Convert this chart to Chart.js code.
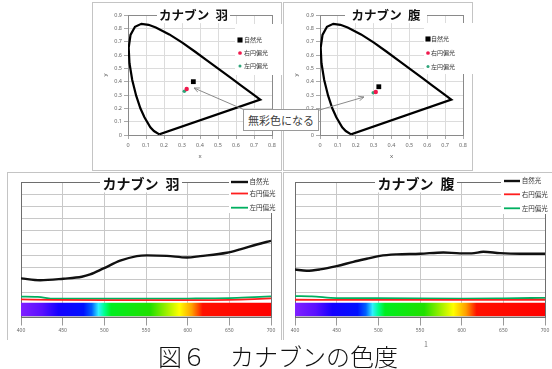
<!DOCTYPE html>
<html lang="ja">
<head>
<meta charset="utf-8">
<title>カナブンの色度</title>
<script src="https://cdn.jsdelivr.net/npm/chart.js@4.4.1/dist/chart.umd.min.js"></script>
<style>
  html, body { margin: 0; padding: 0; background: #fff; }
  body { position: relative; width: 552px; height: 369px; overflow: hidden;
         font-family: "Noto Sans CJK JP", "Noto Sans", sans-serif; }
  .box { position: absolute; border: 1px solid #c4c4c4; box-sizing: border-box; }
  .box.open { border-bottom: none; }
  canvas { position: absolute; }
  #arrows { position: absolute; left: 0; top: 0; }
  #note { position: absolute; left: 243px; top: 109px; width: 76px; height: 22px;
          box-sizing: border-box; border: 1px solid #9a9a9a; background: #fff;
          font-size: 11px; line-height: 20px; color: #404040; text-align: center; white-space: nowrap; }
  #caption { position: absolute; left: 158px; top: 344px; font-size: 24px; line-height: 24px;
             font-weight: 300; color: #111; white-space: nowrap; }
  #pageNo { position: absolute; left: 424px; top: 339px; font-size: 7px; color: #777; }
</style>
</head>
<body>
<div class="box" style="left:92px;top:2px;width:190px;height:169px"></div>
<div class="box" style="left:283px;top:2px;width:190px;height:169px"></div>
<div class="box open" style="left:7px;top:172px;width:275px;height:168px"></div>
<div class="box open" style="left:283px;top:172px;width:272px;height:168px"></div>

<canvas id="chromaHane" width="190" height="172" style="left:92px;top:0"></canvas>
<canvas id="chromaHara" width="190" height="172" style="left:283px;top:0"></canvas>
<canvas id="specHane" width="274" height="168" style="left:7px;top:172px"></canvas>
<canvas id="specHara" width="270" height="168" style="left:282px;top:172px"></canvas>

<svg id="arrows" width="552" height="369">
  <defs>
    <marker id="ah" viewBox="0 0 10 10" refX="9" refY="5" markerWidth="6" markerHeight="6" orient="auto">
      <path d="M0,1 L9,5 L0,9" fill="none" stroke="#8a8a8a" stroke-width="1.4"/>
    </marker>
  </defs>
  <line x1="247" y1="111" x2="194" y2="88" stroke="#8a8a8a" stroke-width="1" marker-end="url(#ah)"/>
  <line x1="316" y1="111" x2="364" y2="97" stroke="#8a8a8a" stroke-width="1" marker-end="url(#ah)"/>
</svg>
<div id="note">無彩色になる</div>
<div id="caption">図６　カナブンの色度</div>
<div id="pageNo">1</div>

<script>
// スペクトル軌跡 (CIE 1931 xy)
const locusX = [0.1741, 0.1440, 0.1241, 0.0913, 0.0687, 0.0454, 0.0235, 0.0082, 0.0039, 0.0139, 0.0389,
                0.0743, 0.1142, 0.1547, 0.2296, 0.3016, 0.3731, 0.4441, 0.5125, 0.5752, 0.6270, 0.6915,
                0.7347, 0.1741];
const locusY = [0.0050, 0.0297, 0.0578, 0.1327, 0.2007, 0.2950, 0.4127, 0.5384, 0.6548, 0.7502, 0.8120,
                0.8338, 0.8262, 0.8059, 0.7543, 0.6923, 0.6245, 0.5547, 0.4866, 0.4242, 0.3725, 0.3083,
                0.2653, 0.0050];

// 系列名
const lightLabels = ['自然光', '右円偏光', '左円偏光'];

// 色度座標 (x, y)
const haneChromaX = [0.363, 0.326, 0.313];
const haneChromaY = [0.400, 0.345, 0.328];
const haraChromaX = [0.329, 0.312, 0.298];
const haraChromaY = [0.362, 0.323, 0.317];

// 色度図の目盛
const chromaXMax = 0.8;
const chromaYMax = 0.9;
const chromaStep = 0.1;

// 分光曲線の目盛
const wlMin = 400;
const wlMax = 700;
const wlStep = 50;
const specYMax = 110;
const specYStep = 10;

// 分光曲線 — 羽
const haneNaturalWl = [400, 423, 451, 473, 483, 499, 519, 539, 551, 575, 599, 615, 647, 663, 683, 700];
const haneNatural   = [31.2, 29.6, 30.9, 32.5, 34.4, 39.3, 45.6, 49.4, 50.0, 49.6, 48.3, 49.4, 52.1, 54.9, 58.9, 61.9];
const haneRightWl   = [400, 440, 500, 600, 650, 680, 700];
const haneRight     = [14.0, 13.6, 13.4, 13.4, 13.6, 14.2, 14.8];
const haneLeftWl    = [400, 420, 440, 500, 600, 650, 680, 700];
const haneLeft      = [16.2, 16.0, 14.6, 14.6, 14.7, 15.0, 15.8, 16.4];

// 分光曲線 — 腹
const haraNaturalWl = [400, 414, 430, 450, 470, 486, 502, 522, 550, 578, 598, 612, 626, 646, 670, 700];
const haraNatural   = [38.5, 37.4, 38.5, 41.2, 44.7, 47.2, 49.6, 50.8, 51.3, 52.4, 51.6, 51.6, 52.9, 51.8, 51.3, 51.3];
const haraRightWl   = [400, 500, 600, 700];
const haraRight     = [13.7, 13.6, 13.6, 13.7];
const haraLeftWl    = [400, 420, 450, 500, 600, 650, 700];
const haraLeft      = [16.7, 16.5, 15.1, 15.0, 14.5, 14.8, 15.3];

// 可視光の帯
const bandTop = 11.2;
const spectrumStops = [
  [400, '#8020ff'], [425, '#5a10ff'], [445, '#1400ff'], [475, '#0010ff'], [485, '#0060ff'],
  [493, '#30f0ff'], [500, '#00ff90'], [508, '#00ee20'], [555, '#20e000'], [575, '#a0f000'],
  [590, '#ffff00'], [605, '#ffa000'], [618, '#ff1000'], [700, '#ff0000']
];

const pointColors = ['#000000', '#f0184c', '#2fa57a'];
const pointStyles = ['rect', 'circle', 'circle'];
const pointSizes  = [3.4, 2.2, 1.8];
const lineColors  = ['#111111', '#ff1e1e', '#00b060'];
const lineWidths  = [2.4, 1.8, 1.8];

const JP = '"Noto Sans CJK JP", "Noto Sans", sans-serif';

// プロット枠
const frame = {
  id: 'frame',
  beforeDatasetsDraw(chart, args, o) {
    const { ctx, chartArea: a } = chart;
    ctx.save();
    ctx.strokeStyle = o.color;
    ctx.lineWidth = 1;
    ctx.strokeRect(Math.round(a.left) + 0.5, Math.round(a.top) + 0.5,
                   Math.round(a.right - a.left), Math.round(a.bottom - a.top));
    ctx.restore();
  }
};

// 枠線に重なるタイトル
const boxTitle = {
  id: 'boxTitle',
  afterDraw(chart, args, o) {
    const ctx = chart.ctx;
    ctx.save();
    ctx.fillStyle = '#fff';
    ctx.fillRect(o.x0, o.y - o.size * 0.65, o.x1 - o.x0, o.size * 1.3);
    ctx.font = 'bold ' + o.size + 'px ' + JP;
    ctx.fillStyle = '#111';
    ctx.textAlign = 'center';
    ctx.textBaseline = 'middle';
    ctx.fillText(o.text, (o.x0 + o.x1) / 2, o.y);
    ctx.restore();
  }
};

// プロット内の凡例
const boxLegend = {
  id: 'boxLegend',
  afterDraw(chart, args, o) {
    const ctx = chart.ctx;
    ctx.save();
    ctx.fillStyle = '#fff';
    ctx.fillRect(o.box[0], o.box[1], o.box[2], o.box[3]);
    ctx.font = o.size + 'px ' + JP;
    ctx.textBaseline = 'middle';
    chart.data.datasets.filter(d => d.legend).forEach((d, i) => {
      const y = o.rows[i];
      if (o.kind === 'line') {
        ctx.strokeStyle = d.borderColor;
        ctx.lineWidth = d.borderWidth;
        ctx.beginPath();
        ctx.moveTo(o.markX, y);
        ctx.lineTo(o.markX + o.lineLen, y);
        ctx.stroke();
      } else {
        ctx.fillStyle = d.backgroundColor;
        ctx.beginPath();
        if (d.pointStyle === 'rect') {
          const s = d.pointRadius * 0.75;
          ctx.rect(o.markX - s, y - s, 2 * s, 2 * s);
        } else {
          ctx.arc(o.markX, y, d.pointRadius * 0.85, 0, Math.PI * 2);
        }
        ctx.fill();
      }
      ctx.fillStyle = '#333';
      ctx.fillText(d.label, o.textX, y);
    });
    ctx.restore();
  }
};

function tickFont(size) {
  return { size: size, family: '"Noto Sans", sans-serif' };
}

function chromaChart(id, xs, ys, o) {
  const points = lightLabels.map((label, i) => ({
    label: label,
    legend: true,
    data: [{ x: xs[i], y: ys[i] }],
    pointStyle: pointStyles[i],
    pointRadius: pointSizes[i],
    pointHoverRadius: pointSizes[i],
    backgroundColor: pointColors[i],
    borderColor: pointColors[i],
    borderWidth: 0
  }));
  const locus = {
    label: 'locus',
    data: locusX.map((x, i) => ({ x: x, y: locusY[i] })),
    showLine: true,
    borderColor: '#000',
    borderWidth: 2.2,
    pointRadius: 0,
    tension: 0
  };

  return new Chart(document.getElementById(id), {
    type: 'scatter',
    data: { datasets: points.concat([locus]) },
    options: {
      responsive: false,
      animation: false,
      events: [],
      layout: { padding: { top: 15, right: 10, left: 0, bottom: 0 } },
      scales: {
        x: {
          type: 'linear', min: 0, max: chromaXMax,
          ticks: { stepSize: chromaStep, autoSkip: false, maxRotation: 0, padding: 3, color: '#666', font: tickFont(5.5) },
          grid: { color: '#dcdcdc', tickLength: 4, tickColor: '#aaa' },
          border: { display: false },
          title: { display: true, text: 'x', color: '#555', font: tickFont(6), padding: { top: 0, bottom: 11.7 } },
          afterFit: s => { s.height = 37; }
        },
        y: {
          type: 'linear', min: 0, max: chromaYMax,
          ticks: { stepSize: chromaStep, autoSkip: false, padding: 2, color: '#666', font: tickFont(5.5) },
          grid: { color: '#dcdcdc', tickLength: 4, tickColor: '#aaa' },
          border: { display: false },
          title: { display: true, text: 'y', color: '#555', font: tickFont(6), padding: { top: o.yTitlePad, bottom: 0 } },
          afterFit: s => { s.width = o.axisW; }
        }
      },
      plugins: {
        legend: { display: false },
        tooltip: { enabled: false },
        frame: { color: '#8a8a8a' },
        boxTitle: o.title,
        boxLegend: o.legend
      }
    },
    plugins: [frame, boxTitle, boxLegend]
  });
}

function spectrumChart(id, series, o) {
  const lines = series.map((s, i) => ({
    label: lightLabels[i],
    legend: true,
    data: s.wl.map((x, k) => ({ x: x, y: s.v[k] })),
    borderColor: lineColors[i],
    borderWidth: lineWidths[i],
    pointRadius: 0,
    cubicInterpolationMode: 'monotone',
    fill: false
  }));
  lines.push({
    label: '',
    data: [{ x: wlMin, y: bandTop }, { x: wlMax, y: bandTop }],
    borderWidth: 0,
    pointRadius: 0,
    fill: { value: 0 },
    backgroundColor: ctx => {
      const chart = ctx.chart;
      if (!chart.chartArea) return 'rgba(0,0,0,0)';
      const xs = chart.scales.x;
      const g = chart.ctx.createLinearGradient(xs.getPixelForValue(wlMin), 0, xs.getPixelForValue(wlMax), 0);
      spectrumStops.forEach(([wl, c]) => g.addColorStop((wl - wlMin) / (wlMax - wlMin), c));
      return g;
    }
  });

  return new Chart(document.getElementById(id), {
    type: 'line',
    data: { datasets: lines },
    options: {
      responsive: false,
      animation: false,
      events: [],
      layout: { padding: { top: 10, right: o.padRight, left: o.padLeft, bottom: 0 } },
      scales: {
        x: {
          type: 'linear', min: wlMin, max: wlMax,
          ticks: { stepSize: wlStep, autoSkip: false, maxRotation: 0, padding: 2, color: '#666', font: tickFont(5) },
          grid: { color: '#c8c8c8', tickLength: 9, tickColor: '#999' },
          border: { display: false },
          afterFit: s => { s.height = 23.5; }
        },
        y: {
          type: 'linear', min: 0, max: specYMax,
          ticks: { display: false, stepSize: specYStep },
          grid: { color: '#c8c8c8', drawTicks: false },
          border: { display: false },
          afterFit: s => { s.width = 0; }
        }
      },
      plugins: {
        legend: { display: false },
        tooltip: { enabled: false },
        frame: { color: '#6e6e6e' },
        boxTitle: o.title,
        boxLegend: o.legend
      }
    },
    plugins: [frame, boxTitle, boxLegend]
  });
}

chromaChart('chromaHane', haneChromaX, haneChromaY, {
  axisW: 36, yTitlePad: 10,
  title: { text: 'カナブン\u2002羽', x0: 65, x1: 138, y: 15, size: 12.5 },
  legend: { kind: 'point', box: [143, 24, 47, 51], rows: [40, 53, 66], markX: 148, textX: 152, size: 6 }
});
chromaChart('chromaHara', haraChromaX, haraChromaY, {
  axisW: 37, yTitlePad: 9.4,
  title: { text: 'カナブン\u2002腹', x0: 62, x1: 144, y: 15, size: 12.5 },
  legend: { kind: 'point', box: [141, 23, 49, 51], rows: [39, 53, 66.5], markX: 145, textX: 148, size: 6 }
});

spectrumChart('specHane', [
  { wl: haneNaturalWl, v: haneNatural },
  { wl: haneRightWl, v: haneRight },
  { wl: haneLeftWl, v: haneLeft }
], {
  padLeft: 14, padRight: 10,
  title: { text: 'カナブン\u2002羽', x0: 93, x1: 175, y: 11.3, size: 14 },
  legend: { kind: 'line', box: [222, 4, 53, 37], rows: [10, 21.5, 35.7], markX: 224, lineLen: 17, textX: 242.5, size: 6.5 }
});
spectrumChart('specHara', [
  { wl: haraNaturalWl, v: haraNatural },
  { wl: haraRightWl, v: haraRight },
  { wl: haraLeftWl, v: haraLeft }
], {
  padLeft: 13, padRight: 7,
  title: { text: 'カナブン\u2002腹', x0: 93, x1: 175, y: 11.3, size: 14 },
  legend: { kind: 'line', box: [219, 3, 51, 39], rows: [9, 22.3, 36.3], markX: 222, lineLen: 16, textX: 239.7, size: 6.5 }
});
</script>
</body>
</html>
